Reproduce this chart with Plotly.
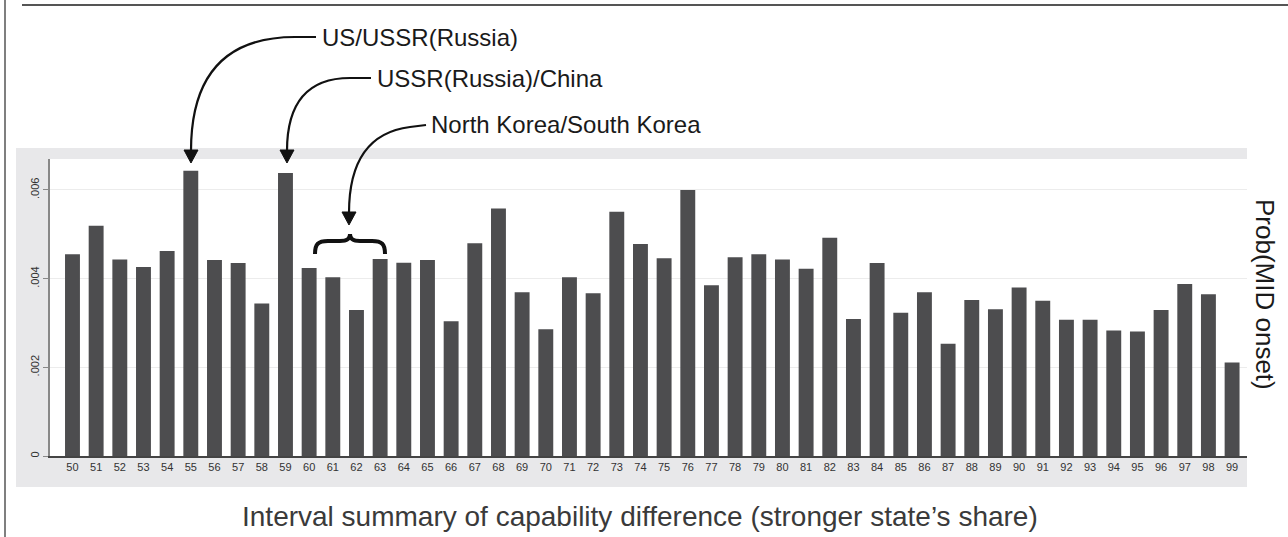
import plotly.graph_objects as go

# ---- data ----
categories = [str(v) for v in range(50, 100)]
prob_mid_onset = [
    0.00455, 0.00519, 0.00443, 0.00426, 0.00462, 0.00643, 0.00442, 0.00435, 0.00344, 0.00638,
    0.00424, 0.00403, 0.00329, 0.00444, 0.00436, 0.00442, 0.00304, 0.00480, 0.00558, 0.00369,
    0.00286, 0.00403, 0.00367, 0.00551, 0.00478, 0.00446, 0.00600, 0.00385, 0.00448, 0.00455,
    0.00443, 0.00422, 0.00492, 0.00309, 0.00435, 0.00323, 0.00369, 0.00253, 0.00352, 0.00331,
    0.00380, 0.00350, 0.00307, 0.00307, 0.00283, 0.00281, 0.00329, 0.00388, 0.00365, 0.00211,
]
y_tick_vals = [0, 0.002, 0.004, 0.006]
y_tick_text = ["0", ".002", ".004", ".006"]
annotation_labels = ["US/USSR(Russia)", "USSR(Russia)/China", "North Korea/South Korea"]
x_title = "Interval summary of capability difference (stronger state\u2019s share)"
y_title = "Prob(MID onset)"

W, H = 1288, 537
L, R, T, B = 50, 41, 159, 81
PW, PH = W - L - R, H - T - B


def px(x):
    return (x - L) / PW


def py(y):
    return (H - B - y) / PH


def path(cmds):
    out = []
    for c in cmds:
        if isinstance(c, str):
            out.append(c)
        else:
            out.append(f"{px(c[0]):.5f},{py(c[1]):.5f}")
    return " ".join(out)


xs = [int(c) for c in categories]

fig = go.Figure(go.Bar(
    x=xs, y=prob_mid_onset, marker=dict(color="#4d4d4f", line=dict(width=0)),
    width=0.63,
))

shapes = []
# gray background band + white plot area
shapes.append(dict(type="rect", xref="paper", yref="paper", layer="below",
                   x0=px(16), x1=px(1247), y0=py(487), y1=py(148),
                   fillcolor="#e8e8ea", line=dict(width=0)))
shapes.append(dict(type="rect", xref="paper", yref="paper", layer="below",
                   x0=px(50), x1=px(1247), y0=py(456), y1=py(159),
                   fillcolor="#ffffff", line=dict(width=0)))
# outer frame lines
shapes.append(dict(type="line", xref="paper", yref="paper",
                   x0=px(5), x1=px(5), y0=py(0), y1=py(537),
                   line=dict(color="#555555", width=1.5)))
shapes.append(dict(type="line", xref="paper", yref="paper",
                   x0=px(22), x1=px(1288), y0=py(5), y1=py(5),
                   line=dict(color="#555555", width=2)))

curve_style = dict(type="path", xref="paper", yref="paper",
                   line=dict(color="#111111", width=2.2))
head_style = dict(type="path", xref="paper", yref="paper",
                  fillcolor="#111111", line=dict(color="#111111", width=1))

# arrow 1
shapes.append(dict(curve_style, path=path(["M", (316, 37), "L", (295, 37), "C", (225, 37), (191, 75), (191, 151)])))
shapes.append(dict(head_style, path=path(["M", (184, 150), "L", (198, 150), "L", (191, 163), "Z"])))
# arrow 2
shapes.append(dict(curve_style, path=path(["M", (371, 78), "L", (350, 78), "C", (310, 78), (287, 100), (287, 151)])))
shapes.append(dict(head_style, path=path(["M", (280, 150), "L", (294, 150), "L", (287, 163), "Z"])))
# arrow 3
shapes.append(dict(curve_style, path=path(["M", (426, 125), "L", (410, 127), "C", (370, 132), (349, 160), (349, 213)])))
shapes.append(dict(head_style, path=path(["M", (342, 212), "L", (356, 212), "L", (349, 225), "Z"])))
# brace
shapes.append(dict(type="path", xref="paper", yref="paper",
                   line=dict(color="#111111", width=4),
                   path=path(["M", (315, 254), "C", (315, 244), (318, 241), (328, 241),
                              "L", (340, 241), "C", (347, 241), (350, 239), (350, 234),
                              "C", (350, 239), (353, 241), (360, 241),
                              "L", (372, 241), "C", (382, 241), (385, 244), (385, 254)])))

annotations = []
for text, (ax_, ay_) in zip(annotation_labels, [(320, 37), (375, 78), (429, 124)]):
    annotations.append(dict(text=text, x=px(ax_), y=py(ay_), xref="paper", yref="paper",
                            xanchor="left", yanchor="middle", showarrow=False,
                            font=dict(family="Liberation Sans, Arial", size=24, color="#1a1a1a")))
annotations.append(dict(text=x_title, x=px(640), y=py(516), xref="paper", yref="paper",
                        xanchor="center", yanchor="middle", showarrow=False,
                        font=dict(family="Liberation Sans, Arial", size=28, color="#3a3a3a")))
annotations.append(dict(text=y_title, x=px(1265), y=py(294), xref="paper", yref="paper",
                        xanchor="center", yanchor="middle", showarrow=False, textangle=90,
                        font=dict(family="Liberation Sans, Arial", size=26, color="#1a1a1a")))

fig.update_layout(
    width=W, height=H,
    margin=dict(l=L, r=R, t=T, b=B, pad=0),
    paper_bgcolor="#ffffff", plot_bgcolor="#ffffff",
    showlegend=False, bargap=0.37,
    shapes=shapes, annotations=annotations,
    font=dict(family="Liberation Sans, Arial", color="#333333"),
    xaxis=dict(range=[49.05, 99.63], tickvals=xs, ticktext=categories,
               showgrid=False, zeroline=False, showline=True, linecolor="#444444",
               linewidth=1.5, ticks="", tickfont=dict(size=11, color="#333333"),
               fixedrange=True),
    yaxis=dict(range=[0, 0.006697], tickvals=y_tick_vals, ticktext=y_tick_text,
               tickangle=-90, showgrid=True, gridcolor="#ececec", gridwidth=1,
               zeroline=False, showline=True, linecolor="#888888", linewidth=1.5,
               ticks="outside", ticklen=5, tickcolor="#888888",
               tickfont=dict(size=11, color="#333333"), fixedrange=True),
)

fig.write_html("out.html", config={"displayModeBar": False},
               post_script="document.body.style.margin='0';document.body.style.overflow='hidden';")
